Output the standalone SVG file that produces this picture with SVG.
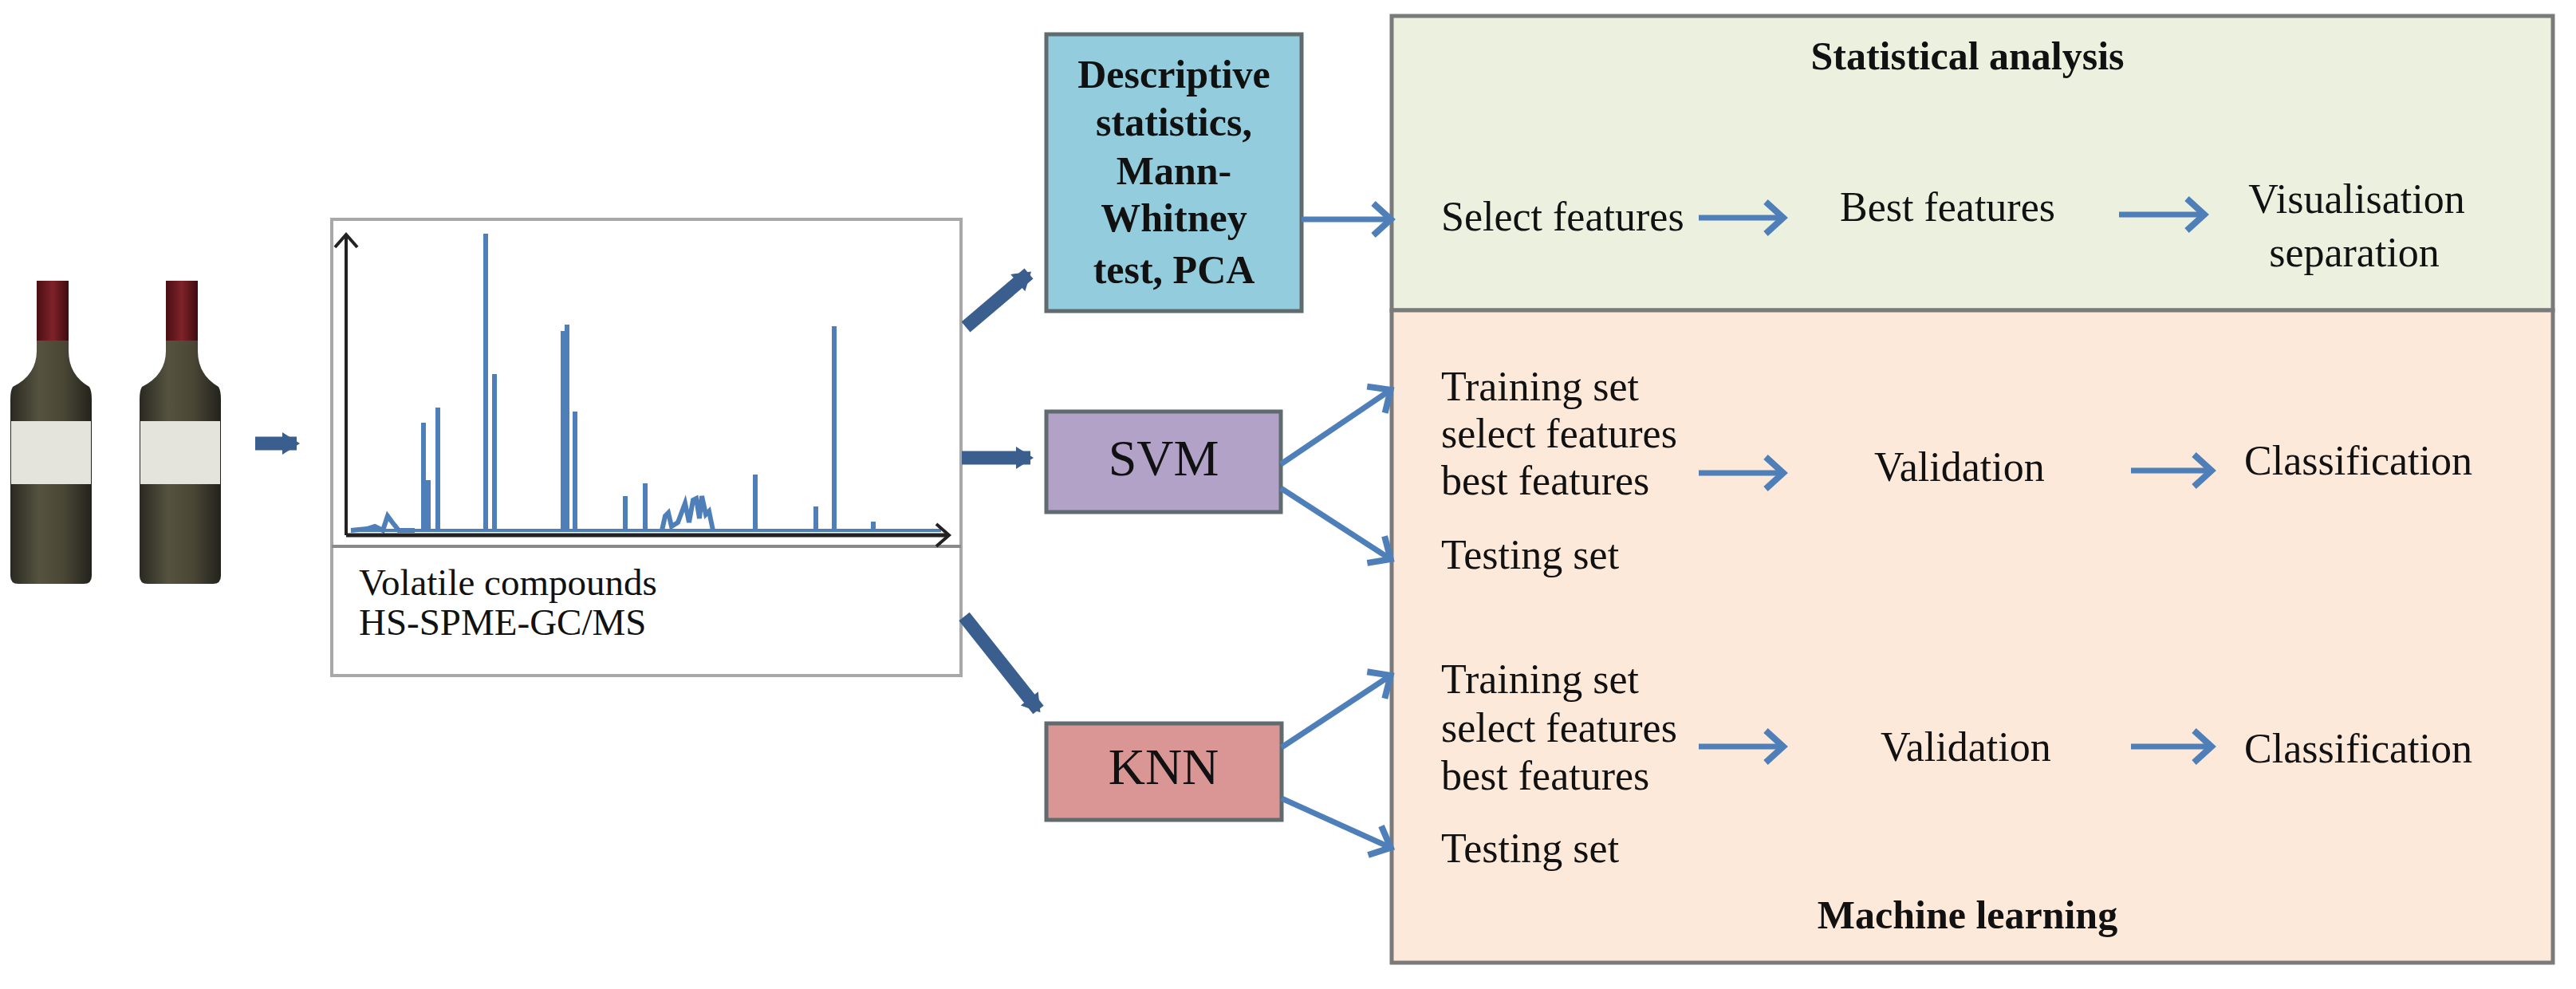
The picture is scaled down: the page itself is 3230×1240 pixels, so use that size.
<svg xmlns="http://www.w3.org/2000/svg" width="3230" height="1240" viewBox="0 0 3230 1240">
<style>
.t{font-family:"Liberation Serif","Times New Roman",serif;fill:#111}
.r{font-size:52px}
.b{font-size:50px;font-weight:bold}
.thick{stroke:#3a5f8f;stroke-width:17;fill:none}
.thin{stroke:#4f7fb9;stroke-width:7;fill:none}
.pk{stroke:#4f7fb9;stroke-width:6;fill:none}
.box{stroke:#5f6b6f;stroke-width:5}
</style>
<defs>
<marker id="hT" markerUnits="userSpaceOnUse" markerWidth="40" markerHeight="40" refX="22" refY="20" orient="auto" viewBox="0 0 40 40">
<path d="M4 6 L26 20 L4 34 Z" fill="#3a5f8f"/>
</marker>
<marker id="hs" markerUnits="userSpaceOnUse" markerWidth="40" markerHeight="50" refX="30" refY="25" orient="auto" viewBox="0 0 40 50">
<path d="M10 5 L32 25 L10 45" fill="none" stroke="#4f7fb9" stroke-width="8"/>
</marker>
<marker id="hb" markerUnits="userSpaceOnUse" markerWidth="40" markerHeight="40" refX="20" refY="20" orient="auto" viewBox="0 0 40 40">
<path d="M6 6 L22 20 L6 34" fill="none" stroke="#222" stroke-width="4"/>
</marker>
<linearGradient id="bg" x1="0" x2="1">
<stop offset="0" stop-color="#2a2a22"/><stop offset="0.35" stop-color="#55523f"/><stop offset="0.65" stop-color="#4a4736"/><stop offset="1" stop-color="#23231c"/>
</linearGradient>
<linearGradient id="cg" x1="0" x2="1">
<stop offset="0" stop-color="#4a0f14"/><stop offset="0.5" stop-color="#7e2329"/><stop offset="1" stop-color="#3e0c10"/>
</linearGradient>
</defs>
<rect width="3230" height="1240" fill="#fff"/>

<g id="bottle1">
<path d="M46 352 H86 V440 Q86 470 112 485 Q115 490 115 500 V722 Q115 732 105 732 H23 Q13 732 13 722 V500 Q13 490 16 485 Q46 470 46 440 Z" fill="url(#bg)"/>
<rect x="46" y="352" width="40" height="75" fill="url(#cg)"/>
<rect x="14" y="528" width="100" height="79" fill="#e4e4dc"/>
</g>
<g id="bottle2">
<path d="M208 352 H248 V440 Q248 470 274 485 Q277 490 277 500 V722 Q277 732 267 732 H185 Q175 732 175 722 V500 Q175 490 178 485 Q208 470 208 440 Z" fill="url(#bg)"/>
<rect x="208" y="352" width="40" height="75" fill="url(#cg)"/>
<rect x="176" y="528" width="100" height="79" fill="#e4e4dc"/>
</g>

<g id="chromatogram">
<rect x="416" y="275" width="789" height="572" fill="#fff" stroke="#a8a8a8" stroke-width="4"/>
<line x1="416" y1="685" x2="1205" y2="685" stroke="#8a8a8a" stroke-width="4"/>
<g class="pk">
<polyline points="440,665 460,663 470,660 480,665 486,647 492,655 500,665 520,665"/>
<line x1="531" y1="665" x2="531" y2="530"/>
<line x1="537" y1="665" x2="537" y2="602"/>
<line x1="549" y1="665" x2="549" y2="511"/>
<line x1="609" y1="665" x2="609" y2="293"/>
<line x1="620" y1="665" x2="620" y2="469"/>
<line x1="706" y1="665" x2="706" y2="415"/>
<line x1="711" y1="665" x2="711" y2="407"/>
<line x1="721" y1="665" x2="721" y2="516"/>
<line x1="784" y1="665" x2="784" y2="622"/>
<line x1="809" y1="665" x2="809" y2="606"/>
<polyline points="830,665 834,647 838,643 842,660 850,655 859,631 864,655 869,627 873,625 877,650 880,622 885,645 889,641 894,665"/>
<line x1="947" y1="665" x2="947" y2="595"/>
<line x1="1023" y1="665" x2="1023" y2="635"/>
<line x1="1046" y1="665" x2="1046" y2="409"/>
<line x1="1095" y1="665" x2="1095" y2="654"/>
<polyline points="440,665 1180,665" stroke-width="4"/>
</g>
<line x1="434" y1="671" x2="434" y2="296" stroke="#222" stroke-width="4" marker-end="url(#hb)"/>
<line x1="434" y1="671" x2="1188" y2="671" stroke="#222" stroke-width="5" marker-end="url(#hb)"/>
<text class="t" x="450" y="746" font-size="47">Volatile compounds</text>
<text class="t" x="450" y="796" font-size="47">HS-SPME-GC/MS</text>
</g>

<g id="desc">
<rect class="box" x="1312" y="43" width="320" height="347" fill="#93cddd"/>
<text class="t b" text-anchor="middle" font-size="48"><tspan x="1472" y="110">Descriptive</tspan><tspan x="1472" y="170">statistics,</tspan><tspan x="1472" y="231">Mann-</tspan><tspan x="1472" y="290">Whitney</tspan><tspan x="1472" y="355">test, PCA</tspan></text>
</g>
<g id="svm">
<rect class="box" x="1312" y="516" width="294" height="126" fill="#b2a2c7"/>
<text class="t" x="1459" y="596" text-anchor="middle" font-size="64">SVM</text>
</g>
<g id="knn">
<rect class="box" x="1312" y="907" width="295" height="121" fill="#d99694"/>
<text class="t" x="1459" y="983" text-anchor="middle" font-size="64">KNN</text>
</g>

<g id="panel">
<rect x="1745" y="20" width="1456" height="369" fill="#ebf0df" stroke="#7a7a7a" stroke-width="5"/>
<rect x="1745" y="389" width="1456" height="818" fill="#fde9d9" stroke="#7a7a7a" stroke-width="5"/>
<text class="t b" x="2467" y="87" text-anchor="middle">Statistical analysis</text>
<text class="t r" x="1807" y="289">Select features</text>
<text class="t r" x="2307" y="277">Best features</text>
<text class="t r" x="2955" y="267" text-anchor="middle">Visualisation</text>
<text class="t r" x="2952" y="334" text-anchor="middle">separation</text>
<text class="t r" x="1807" y="502">Training set</text>
<text class="t r" x="1807" y="561">select features</text>
<text class="t r" x="1807" y="620">best features</text>
<text class="t r" x="1807" y="713">Testing set</text>
<text class="t r" x="2350" y="603">Validation</text>
<text class="t r" x="2814" y="595">Classification</text>
<text class="t r" x="1807" y="869">Training set</text>
<text class="t r" x="1807" y="930">select features</text>
<text class="t r" x="1807" y="990">best features</text>
<text class="t r" x="1807" y="1081">Testing set</text>
<text class="t r" x="2358" y="954">Validation</text>
<text class="t r" x="2814" y="956">Classification</text>
<text class="t b" x="2467" y="1164" text-anchor="middle">Machine learning</text>
</g>

<g id="connectors">
<line class="thick" x1="320" y1="556" x2="372" y2="556" marker-end="url(#hT)"/>
<line class="thick" x1="1211" y1="410" x2="1290" y2="343" marker-end="url(#hT)"/>
<line class="thick" x1="1206" y1="574" x2="1292" y2="574" marker-end="url(#hT)"/>
<line class="thick" x1="1209" y1="773" x2="1302" y2="890" marker-end="url(#hT)"/>
<line class="thin" x1="1632" y1="275" x2="1742" y2="275" marker-end="url(#hs)"/>
<line class="thin" x1="1606" y1="582" x2="1742" y2="490" marker-end="url(#hs)"/>
<line class="thin" x1="1606" y1="612" x2="1742" y2="700" marker-end="url(#hs)"/>
<line class="thin" x1="1607" y1="937" x2="1742" y2="848" marker-end="url(#hs)"/>
<line class="thin" x1="1607" y1="1001" x2="1742" y2="1062" marker-end="url(#hs)"/>
<line class="thin" x1="2130" y1="273" x2="2234" y2="273" marker-end="url(#hs)"/>
<line class="thin" x1="2657" y1="269" x2="2762" y2="269" marker-end="url(#hs)"/>
<line class="thin" x1="2130" y1="593" x2="2234" y2="593" marker-end="url(#hs)"/>
<line class="thin" x1="2672" y1="590" x2="2771" y2="590" marker-end="url(#hs)"/>
<line class="thin" x1="2130" y1="936" x2="2234" y2="936" marker-end="url(#hs)"/>
<line class="thin" x1="2672" y1="936" x2="2771" y2="936" marker-end="url(#hs)"/>
</g>
</svg>
